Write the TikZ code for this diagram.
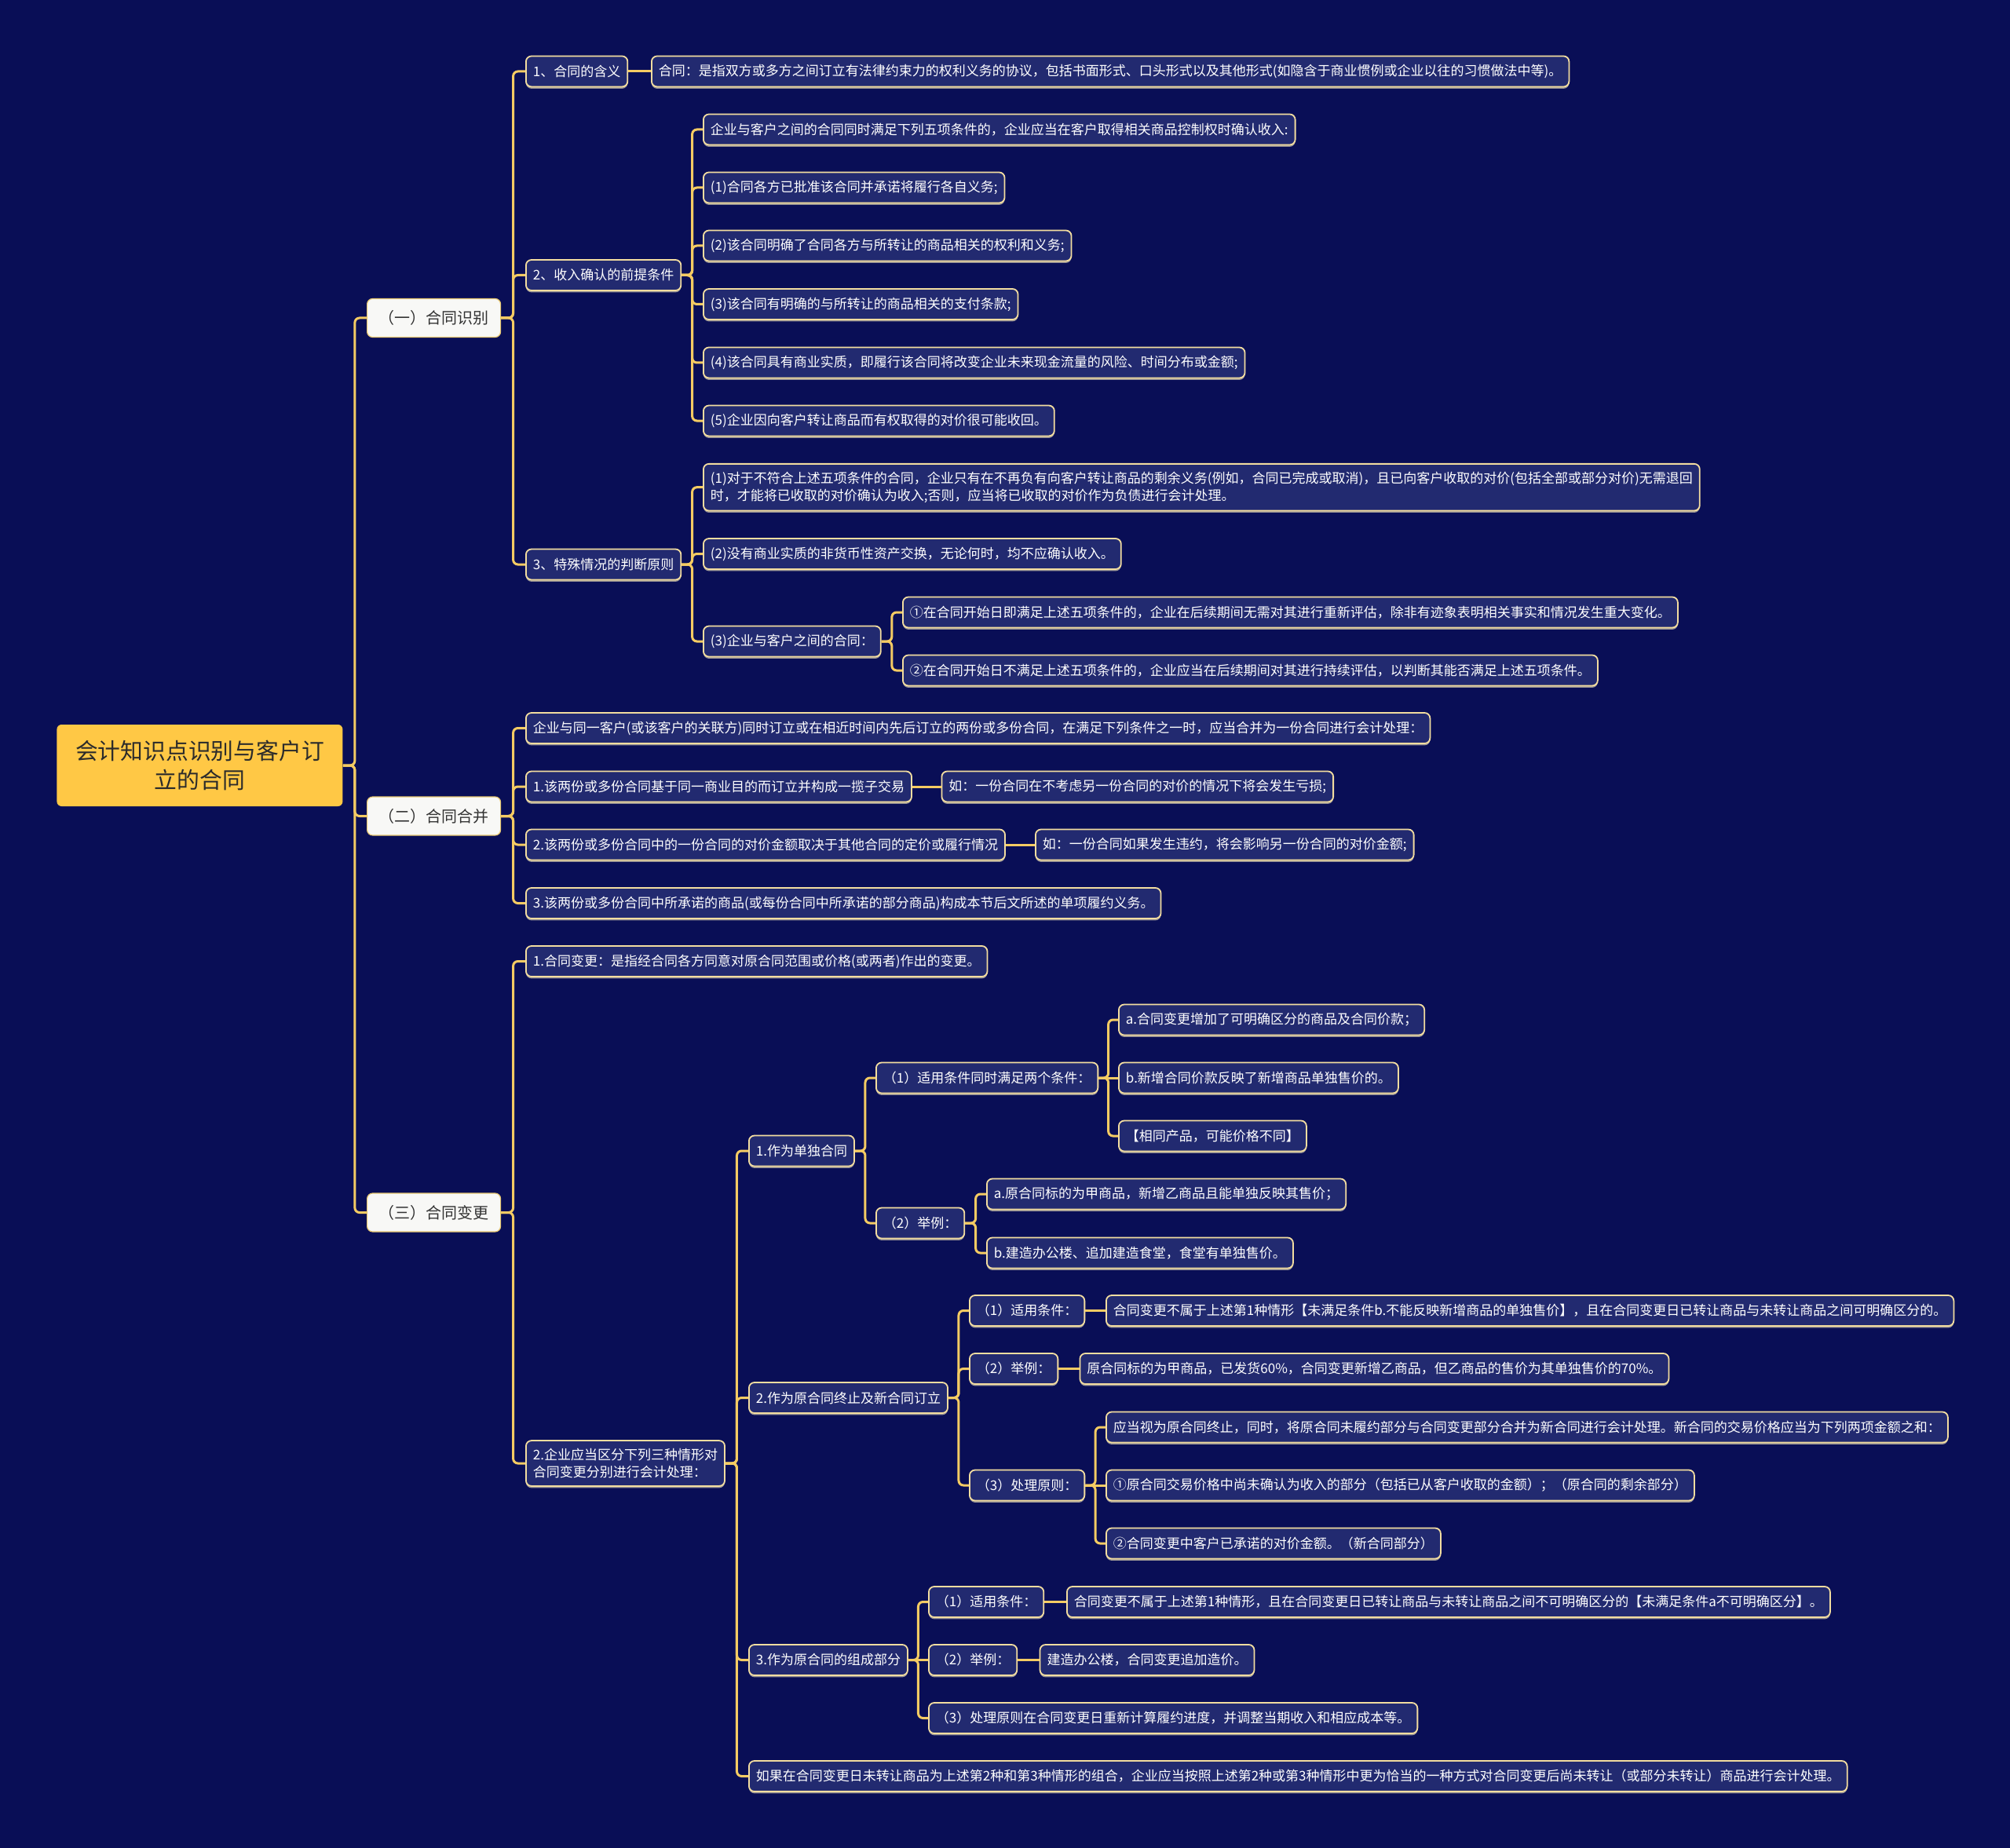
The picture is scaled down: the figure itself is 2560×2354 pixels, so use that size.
\documentclass[tikz,border=0pt]{standalone}
\usepackage{fontspec}
\newfontfamily\cjk{Noto Sans CJK SC}
\usetikzlibrary{calc,shadows}
\definecolor{bgc}{HTML}{090E56}
\definecolor{boxfill}{HTML}{222A70}
\definecolor{boxline}{HTML}{F3DDA0}
\definecolor{shadc}{HTML}{D8CFB0}
\definecolor{connc}{HTML}{F4CB63}
\definecolor{rootc}{HTML}{FFC845}
\definecolor{roottext}{HTML}{2B2B2B}
\definecolor{lonec}{HTML}{F8F8F6}
\definecolor{loneline}{HTML}{E8C870}
\definecolor{lonetext}{HTML}{333333}
\newcommand\elb[2]{\draw[conn] let \p1=(#1.east), \p2=(#2.west) in (\p1) -- ({(\x1+\x2)/2},\y1) |- (\p2);}
\newcommand\strt[2]{\draw[conn] (#1.east) -- (#2.west);}
\begin{document}
\begin{tikzpicture}[x=0.5pt,y=-0.5pt,
  conn/.style={draw=connc, line width=1.5pt, rounded corners=3pt},
  box/.style={draw=boxline, line width=0.9pt, fill=boxfill, rounded corners=3.5pt, text=white,
    font=\cjk\fontsize{8.5}{11}\selectfont, inner xsep=4.5pt, inner ysep=3pt, minimum height=19.5pt,
    anchor=west, align=left, drop shadow={shadow xshift=0pt, shadow yshift=-1.2pt, fill=shadc, opacity=0.7}},
  twoline/.style={box, inner ysep=5pt},
  rootbox/.style={anchor=west, minimum width=182pt, minimum height=52pt, fill=rootc, rounded corners=3pt,
    text=roottext, font=\cjk\fontsize{14.4}{18.8}\selectfont, align=center, inner sep=0pt},
  lone/.style={anchor=west, minimum width=85pt, minimum height=24.5pt, fill=lonec, draw=loneline,
    line width=0.6pt, rounded corners=3.5pt, text=lonetext, font=\cjk\fontsize{10}{12}\selectfont, inner sep=0pt}
]
\fill[bgc] (0,0) rectangle (2560,2354);
\useasboundingbox (0,0) rectangle (2560,2354);

% root and level 1
\node[rootbox] (root) at (72,975) {会计知识点识别与客户订\\立的合同};
\node[lone] (A) at (467,405) {（一）合同识别};
\node[lone] (B) at (467,1039.5) {（二）合同合并};
\node[lone] (C) at (467,1544.5) {（三）合同变更};

% section one
\node[box] (n11) at (669,91) {1、合同的含义};
\node[box] (n11c) at (829,91) {合同：是指双方或多方之间订立有法律约束力的权利义务的协议，包括书面形式、口头形式以及其他形式(如隐含于商业惯例或企业以往的习惯做法中等)。};
\node[box] (n12) at (669,350.5) {2、收入确认的前提条件};
\node[box] (a0) at (895,165) {企业与客户之间的合同同时满足下列五项条件的，企业应当在客户取得相关商品控制权时确认收入:};
\node[box] (a1) at (895,239) {(1)合同各方已批准该合同并承诺将履行各自义务;};
\node[box] (a2) at (895,313) {(2)该合同明确了合同各方与所转让的商品相关的权利和义务;};
\node[box] (a3) at (895,387.5) {(3)该合同有明确的与所转让的商品相关的支付条款;};
\node[box] (a4) at (895,462) {(4)该合同具有商业实质，即履行该合同将改变企业未来现金流量的风险、时间分布或金额;};
\node[box] (a5) at (895,536) {(5)企业因向客户转让商品而有权取得的对价很可能收回。};
\node[box] (n13) at (669,719) {3、特殊情况的判断原则};
\node[twoline] (b1) at (895,620.7) {(1)对于不符合上述五项条件的合同，企业只有在不再负有向客户转让商品的剩余义务(例如，合同已完成或取消)，且已向客户收取的对价(包括全部或部分对价)无需退回\\时，才能将已收取的对价确认为收入;否则，应当将已收取的对价作为负债进行会计处理。};
\node[box] (b2) at (895,705.5) {(2)没有商业实质的非货币性资产交换，无论何时，均不应确认收入。};
\node[box] (b3) at (895,817) {(3)企业与客户之间的合同：};
\node[box] (b31) at (1149,780) {①在合同开始日即满足上述五项条件的，企业在后续期间无需对其进行重新评估，除非有迹象表明相关事实和情况发生重大变化。};
\node[box] (b32) at (1149,854) {②在合同开始日不满足上述五项条件的，企业应当在后续期间对其进行持续评估，以判断其能否满足上述五项条件。};

% section two
\node[box] (m0) at (669,927.5) {企业与同一客户(或该客户的关联方)同时订立或在相近时间内先后订立的两份或多份合同，在满足下列条件之一时，应当合并为一份合同进行会计处理：};
\node[box] (m1) at (669,1002) {1.该两份或多份合同基于同一商业目的而订立并构成一揽子交易};
\node[box] (m1c) at (1198.5,1002) {如：一份合同在不考虑另一份合同的对价的情况下将会发生亏损;};
\node[box] (m2) at (669,1076) {2.该两份或多份合同中的一份合同的对价金额取决于其他合同的定价或履行情况};
\node[box] (m2c) at (1318,1076) {如：一份合同如果发生违约，将会影响另一份合同的对价金额;};
\node[box] (m3) at (669,1150.5) {3.该两份或多份合同中所承诺的商品(或每份合同中所承诺的部分商品)构成本节后文所述的单项履约义务。};

% section three
\node[box] (c1) at (669,1224.5) {1.合同变更：是指经合同各方同意对原合同范围或价格(或两者)作出的变更。};
\node[twoline] (c2) at (669,1864) {2.企业应当区分下列三种情形对\\合同变更分别进行会计处理：};
\node[box] (d1) at (953,1466) {1.作为单独合同};
\node[box] (e1) at (1115,1373) {（1）适用条件同时满足两个条件：};
\node[box] (f1) at (1424,1299) {a.合同变更增加了可明确区分的商品及合同价款；};
\node[box] (f2) at (1424,1373) {b.新增合同价款反映了新增商品单独售价的。};
\node[box] (f3) at (1424,1447) {【相同产品，可能价格不同】};
\node[box] (e2) at (1115,1558) {（2）举例：};
\node[box] (g1) at (1256,1521) {a.原合同标的为甲商品，新增乙商品且能单独反映其售价；};
\node[box] (g2) at (1256,1596) {b.建造办公楼、追加建造食堂，食堂有单独售价。};
\node[box] (d2) at (953,1780.5) {2.作为原合同终止及新合同订立};
\node[box] (h1) at (1234,1669.5) {（1）适用条件：};
\node[box] (h1c) at (1408,1669.5) {合同变更不属于上述第1种情形【未满足条件b.不能反映新增商品的单独售价】，且在合同变更日已转让商品与未转让商品之间可明确区分的。};
\node[box] (h2) at (1234,1743.5) {（2）举例：};
\node[box] (h2c) at (1374.5,1743.5) {原合同标的为甲商品，已发货60\%，合同变更新增乙商品，但乙商品的售价为其单独售价的70\%。};
\node[box] (h3) at (1234,1892) {（3）处理原则：};
\node[box] (k1) at (1408,1818) {应当视为原合同终止，同时，将原合同未履约部分与合同变更部分合并为新合同进行会计处理。新合同的交易价格应当为下列两项金额之和：};
\node[box] (k2) at (1408,1892) {①原合同交易价格中尚未确认为收入的部分（包括已从客户收取的金额）；（原合同的剩余部分）};
\node[box] (k3) at (1408,1966) {②合同变更中客户已承诺的对价金额。（新合同部分）};
\node[box] (d3) at (953,2114.5) {3.作为原合同的组成部分};
\node[box] (p1) at (1182,2040.5) {（1）适用条件：};
\node[box] (p1c) at (1358,2040.5) {合同变更不属于上述第1种情形，且在合同变更日已转让商品与未转让商品之间不可明确区分的【未满足条件a不可明确区分】。};
\node[box] (p2) at (1182,2114.5) {（2）举例：};
\node[box] (p2c) at (1323.6,2114.5) {建造办公楼，合同变更追加造价。};
\node[box] (p3) at (1182,2188.5) {（3）处理原则在合同变更日重新计算履约进度，并调整当期收入和相应成本等。};
\node[box] (d4) at (953,2262.5) {如果在合同变更日未转让商品为上述第2种和第3种情形的组合，企业应当按照上述第2种或第3种情形中更为恰当的一种方式对合同变更后尚未转让（或部分未转让）商品进行会计处理。};

% connectors
\elb{root}{A} \elb{root}{B} \elb{root}{C}
\elb{A}{n11} \elb{A}{n12} \elb{A}{n13}
\strt{n11}{n11c}
\elb{n12}{a0} \elb{n12}{a1} \elb{n12}{a2} \elb{n12}{a3} \elb{n12}{a4} \elb{n12}{a5}
\elb{n13}{b1} \elb{n13}{b2} \elb{n13}{b3}
\elb{b3}{b31} \elb{b3}{b32}
\elb{B}{m0} \elb{B}{m1} \elb{B}{m2} \elb{B}{m3}
\strt{m1}{m1c} \strt{m2}{m2c}
\elb{C}{c1} \elb{C}{c2}
\elb{c2}{d1} \elb{c2}{d2} \elb{c2}{d3} \elb{c2}{d4}
\elb{d1}{e1} \elb{d1}{e2}
\elb{e1}{f1} \strt{e1}{f2} \elb{e1}{f3}
\elb{e2}{g1} \elb{e2}{g2}
\elb{d2}{h1} \elb{d2}{h2} \elb{d2}{h3}
\strt{h1}{h1c} \strt{h2}{h2c}
\elb{h3}{k1} \strt{h3}{k2} \elb{h3}{k3}
\elb{d3}{p1} \strt{d3}{p2} \elb{d3}{p3}
\strt{p1}{p1c} \strt{p2}{p2c}
\end{tikzpicture}
\end{document}
